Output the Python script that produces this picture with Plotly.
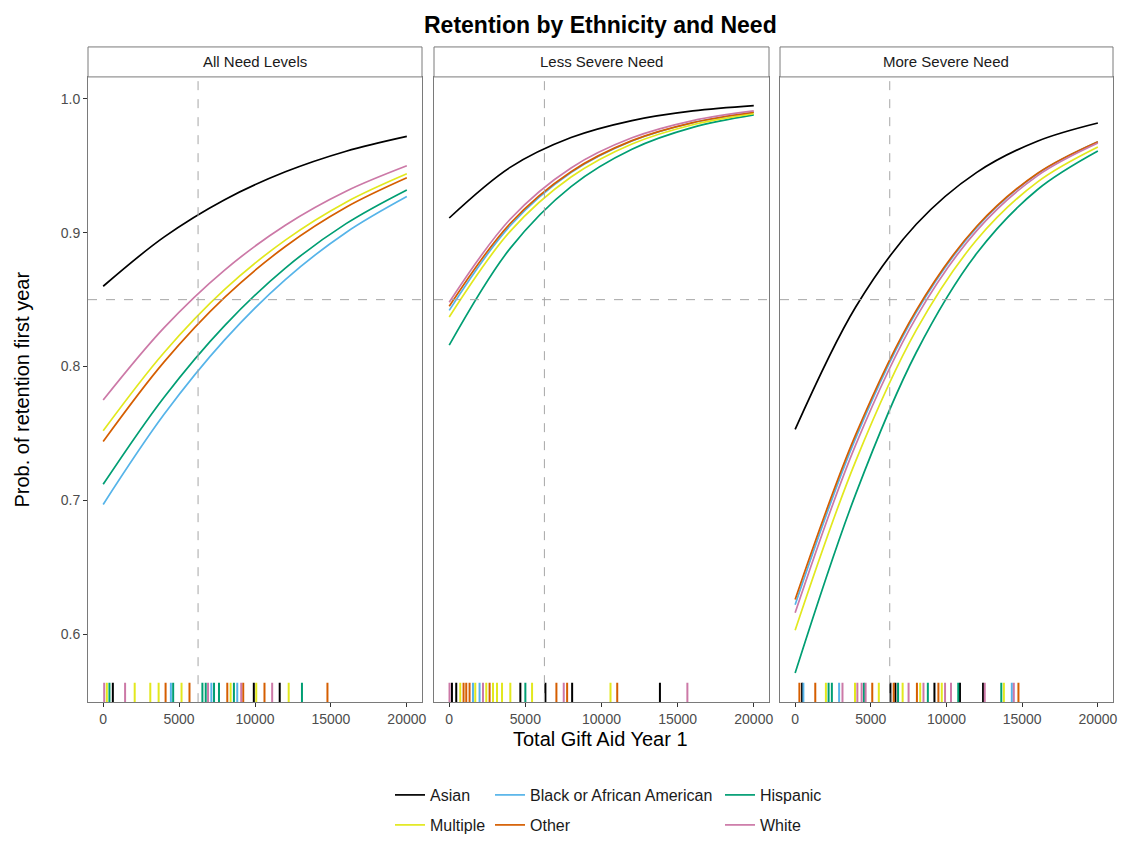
import plotly.graph_objects as go

W, H = 1122, 842

# ---------------- data ----------------
GROUPS = ["Asian", "Black or African American", "Hispanic", "Multiple", "Other", "White"]
COLORS = ["#000000", "#56B4E9", "#009E73", "#E2E81E", "#D55E00", "#CC79A7"]
PANELS = ["All Need Levels", "Less Severe Need", "More Severe Need"]

GIFT_AID = [0, 4000, 8000, 12000, 16000, 20000]

ALL_ASIAN = [0.860, 0.8967, 0.9247, 0.9455, 0.9609, 0.972]
ALL_BLACK = [0.697, 0.7641, 0.8199, 0.8650, 0.9002, 0.927]
ALL_HISPANIC = [0.712, 0.7769, 0.8306, 0.8736, 0.9068, 0.932]
ALL_MULTIPLE = [0.752, 0.8103, 0.8576, 0.8945, 0.9228, 0.944]
ALL_OTHER = [0.744, 0.8033, 0.8517, 0.8897, 0.9190, 0.941]
ALL_WHITE = [0.775, 0.8289, 0.8721, 0.9056, 0.9310, 0.950]

LESS_ASIAN = [0.911, 0.9488, 0.9711, 0.9838, 0.9910, 0.995]
LESS_BLACK = [0.842, 0.9052, 0.9449, 0.9685, 0.9822, 0.990]
LESS_HISPANIC = [0.816, 0.8883, 0.9345, 0.9624, 0.9787, 0.988]
LESS_MULTIPLE = [0.837, 0.9010, 0.9416, 0.9663, 0.9807, 0.989]
LESS_OTHER = [0.845, 0.9069, 0.9456, 0.9688, 0.9823, 0.990]
LESS_WHITE = [0.848, 0.9101, 0.9484, 0.9709, 0.9838, 0.991]

MORE_ASIAN = [0.753, 0.8445, 0.9063, 0.9451, 0.9684, 0.982]
MORE_BLACK = [0.622, 0.7465, 0.8405, 0.9040, 0.9440, 0.968]
MORE_HISPANIC = [0.571, 0.7047, 0.8105, 0.8846, 0.9321, 0.961]
MORE_MULTIPLE = [0.603, 0.7294, 0.8272, 0.8947, 0.9378, 0.964]
MORE_OTHER = [0.626, 0.7491, 0.8420, 0.9048, 0.9443, 0.968]
MORE_WHITE = [0.616, 0.7415, 0.8368, 0.9016, 0.9425, 0.967]

# rug: observed gift aid values and ethnicity code (A,B,H,M,O,W)
RUG_ALL_X = [66, 240, 413, 636, 1443, 2076, 3103, 3652, 4111, 4459, 4610, 5161, 5685, 6536, 6754,
             6907, 7126, 7301, 7628, 8175, 8394, 8611, 8831, 9093, 9225, 9922, 10082, 10625, 11131,
             11628, 12219, 13093, 14772]
RUG_ALL_G = ["W", "M", "H", "A", "W", "M", "M", "M", "O", "B", "H", "M", "O", "H", "H",
             "W", "B", "H", "H", "O", "M", "H", "B", "W", "O", "A", "M", "O", "W",
             "A", "M", "H", "O"]
RUG_LESS_X = [20, 178, 461, 724, 941, 1118, 1336, 1559, 1710, 1993, 2217, 2434, 2651, 2875, 3138,
              3467, 4013, 4671, 5000, 5440, 6316, 7039, 7520, 7743, 8072, 10592, 11033, 13837, 15640]
RUG_LESS_G = ["W", "A", "A", "M", "O", "O", "O", "B", "M", "B", "W", "M", "O", "M", "M",
              "M", "M", "A", "H", "M", "A", "O", "W", "O", "A", "M", "O", "A", "W"]
RUG_MORE_X = [282, 459, 544, 1331, 2033, 2210, 2426, 2905, 3128, 3954, 4111, 4393, 4545, 4656, 5095,
              5528, 6295, 6512, 6623, 6800, 7102, 7495, 8046, 8263, 8479, 8768, 9203, 9465, 9688,
              9904, 10297, 10777, 10889, 12416, 12527, 13620, 13790, 14315, 14446, 14753]
RUG_MORE_G = ["O", "A", "B", "O", "M", "H", "H", "B", "W", "M", "W", "W", "H", "W", "O",
              "M", "A", "O", "A", "H", "M", "W", "O", "M", "W", "H", "A", "O", "M",
              "W", "W", "H", "A", "A", "W", "H", "M", "B", "W", "O"]

AID_REF = 6250      # vertical reference line
PROB_REF = 0.85     # horizontal reference line

X_TICKS = [0, 5000, 10000, 15000, 20000]
Y_TICKS = [0.6, 0.7, 0.8, 0.9, 1.0]
Y_TICK_LABELS = ["0.6", "0.7", "0.8", "0.9", "1.0"]

# ---------------- layout helpers ----------------
X_RANGE = [-1000, 21000]
Y_RANGE = [0.54925, 1.01642]
RUG_LEN = 0.0145
FONT = "Liberation Sans, Arial, sans-serif"
BORDER = "#7a7a7a"

def px_x(p):
    return p / W

def px_y(p):
    return 1 - p / H

X_DOMAINS = [[px_x(88), px_x(422)], [px_x(434), px_x(769)], [px_x(780), px_x(1113)]]
Y_DOMAIN = [px_y(703), px_y(77)]

PANEL_SERIES = [
    [ALL_ASIAN, ALL_BLACK, ALL_HISPANIC, ALL_MULTIPLE, ALL_OTHER, ALL_WHITE],
    [LESS_ASIAN, LESS_BLACK, LESS_HISPANIC, LESS_MULTIPLE, LESS_OTHER, LESS_WHITE],
    [MORE_ASIAN, MORE_BLACK, MORE_HISPANIC, MORE_MULTIPLE, MORE_OTHER, MORE_WHITE],
]
PANEL_RUGS = [(RUG_ALL_X, RUG_ALL_G), (RUG_LESS_X, RUG_LESS_G), (RUG_MORE_X, RUG_MORE_G)]
CODES = ["A", "B", "H", "M", "O", "W"]

fig = go.Figure()

LEGEND_NAMES = ["legend", "legend2", "legend3", "legend4", "legend5", "legend6"]

for p in range(3):
    xa = "x" if p == 0 else f"x{p+1}"
    ya = "y" if p == 0 else f"y{p+1}"
    # rug
    rx, rg = PANEL_RUGS[p]
    for gi, code in enumerate(CODES):
        xs, ys = [], []
        for xv, gv in zip(rx, rg):
            if gv == code:
                xs += [xv, xv, None]
                ys += [Y_RANGE[0], Y_RANGE[0] + RUG_LEN, None]
        if xs:
            fig.add_trace(go.Scatter(x=xs, y=ys, mode="lines", xaxis=xa, yaxis=ya,
                                     line=dict(color=COLORS[gi], width=2),
                                     showlegend=False, hoverinfo="skip"))
    # curves
    for gi, name in enumerate(GROUPS):
        fig.add_trace(go.Scatter(
            x=GIFT_AID, y=PANEL_SERIES[p][gi], mode="lines", name=name,
            xaxis=xa, yaxis=ya,
            line=dict(color=COLORS[gi], width=1.7, shape="spline", smoothing=1.0),
            showlegend=(p == 0), legend=LEGEND_NAMES[gi],
        ))

layout = dict(
    width=W, height=H,
    margin=dict(l=0, r=0, t=0, b=0),
    paper_bgcolor="white", plot_bgcolor="white",
    font=dict(family=FONT, color="#1a1a1a"),
    showlegend=True,
)

for p in range(3):
    xk = "xaxis" if p == 0 else f"xaxis{p+1}"
    yk = "yaxis" if p == 0 else f"yaxis{p+1}"
    ya = "y" if p == 0 else f"y{p+1}"
    xa = "x" if p == 0 else f"x{p+1}"
    layout[xk] = dict(domain=X_DOMAINS[p], range=X_RANGE, anchor=ya,
                      showgrid=False, zeroline=False, showline=True, mirror=True,
                      linecolor=BORDER, linewidth=1,
                      tickmode="array", tickvals=X_TICKS, ticktext=[str(v) for v in X_TICKS],
                      ticks="outside", ticklen=4, tickcolor="#333333", tickwidth=1,
                      tickfont=dict(size=14, color="#4d4d4d", family=FONT), automargin=False)
    layout[yk] = dict(domain=Y_DOMAIN, range=Y_RANGE, anchor=xa,
                      showgrid=False, zeroline=False, showline=True, mirror=True,
                      linecolor=BORDER, linewidth=1,
                      tickmode="array", tickvals=Y_TICKS, ticktext=Y_TICK_LABELS,
                      ticks="outside" if p == 0 else "", ticklen=4, tickcolor="#333333",
                      showticklabels=(p == 0),
                      tickfont=dict(size=14, color="#4d4d4d", family=FONT), automargin=False)

# legends: 3 columns x 2 rows, kept fully inside the figure so no margin is pushed
LEG_COL_X = [390, 490, 720]
LEG_ROW_Y = [795, 826]
for gi in range(6):
    row, col = divmod(gi, 3)
    if gi == 5:
        row, col = 1, 2
    layout[LEGEND_NAMES[gi]] = dict(
        x=px_x(LEG_COL_X[col]), y=px_y(LEG_ROW_Y[row]), xanchor="left", yanchor="middle",
        orientation="h", bgcolor="rgba(0,0,0,0)", itemwidth=30,
        font=dict(size=16, color="#1a1a1a", family=FONT),
    )

fig.update_layout(**layout)

shapes = []
annotations = []
for p in range(3):
    xa = "x" if p == 0 else f"x{p+1}"
    ya = "y" if p == 0 else f"y{p+1}"
    # reference lines
    shapes.append(dict(type="line", xref=xa, yref=f"{ya} domain", x0=AID_REF, x1=AID_REF, y0=0, y1=1,
                       line=dict(color="#a6a6a6", width=1, dash="dash")))
    shapes.append(dict(type="line", xref=f"{xa} domain", yref=ya, x0=0, x1=1, y0=PROB_REF, y1=PROB_REF,
                       line=dict(color="#a6a6a6", width=1, dash="dash")))
    # strip
    shapes.append(dict(type="rect", xref="paper", yref="paper",
                       x0=X_DOMAINS[p][0], x1=X_DOMAINS[p][1], y0=px_y(77), y1=px_y(47),
                       fillcolor="white", line=dict(color=BORDER, width=1)))
    annotations.append(dict(text=PANELS[p], xref="paper", yref="paper",
                            x=(X_DOMAINS[p][0] + X_DOMAINS[p][1]) / 2, y=px_y(62),
                            xanchor="center", yanchor="middle", showarrow=False,
                            font=dict(size=15, color="#1a1a1a", family=FONT)))

annotations.append(dict(text="<b>Retention by Ethnicity and Need</b>", xref="paper", yref="paper",
                        x=px_x(600.5), y=px_y(25), xanchor="center", yanchor="middle", showarrow=False,
                        font=dict(size=23, color="#000000", family=FONT)))
annotations.append(dict(text="Total Gift Aid Year 1", xref="paper", yref="paper",
                        x=px_x(600.5), y=px_y(740), xanchor="center", yanchor="middle", showarrow=False,
                        font=dict(size=20, color="#000000", family=FONT)))
annotations.append(dict(text="Prob. of retention first year", xref="paper", yref="paper",
                        x=px_x(22), y=px_y(390), xanchor="center", yanchor="middle", showarrow=False,
                        textangle=-90, font=dict(size=20, color="#000000", family=FONT)))

fig.update_layout(shapes=shapes, annotations=annotations)

fig.write_html("out.html")
